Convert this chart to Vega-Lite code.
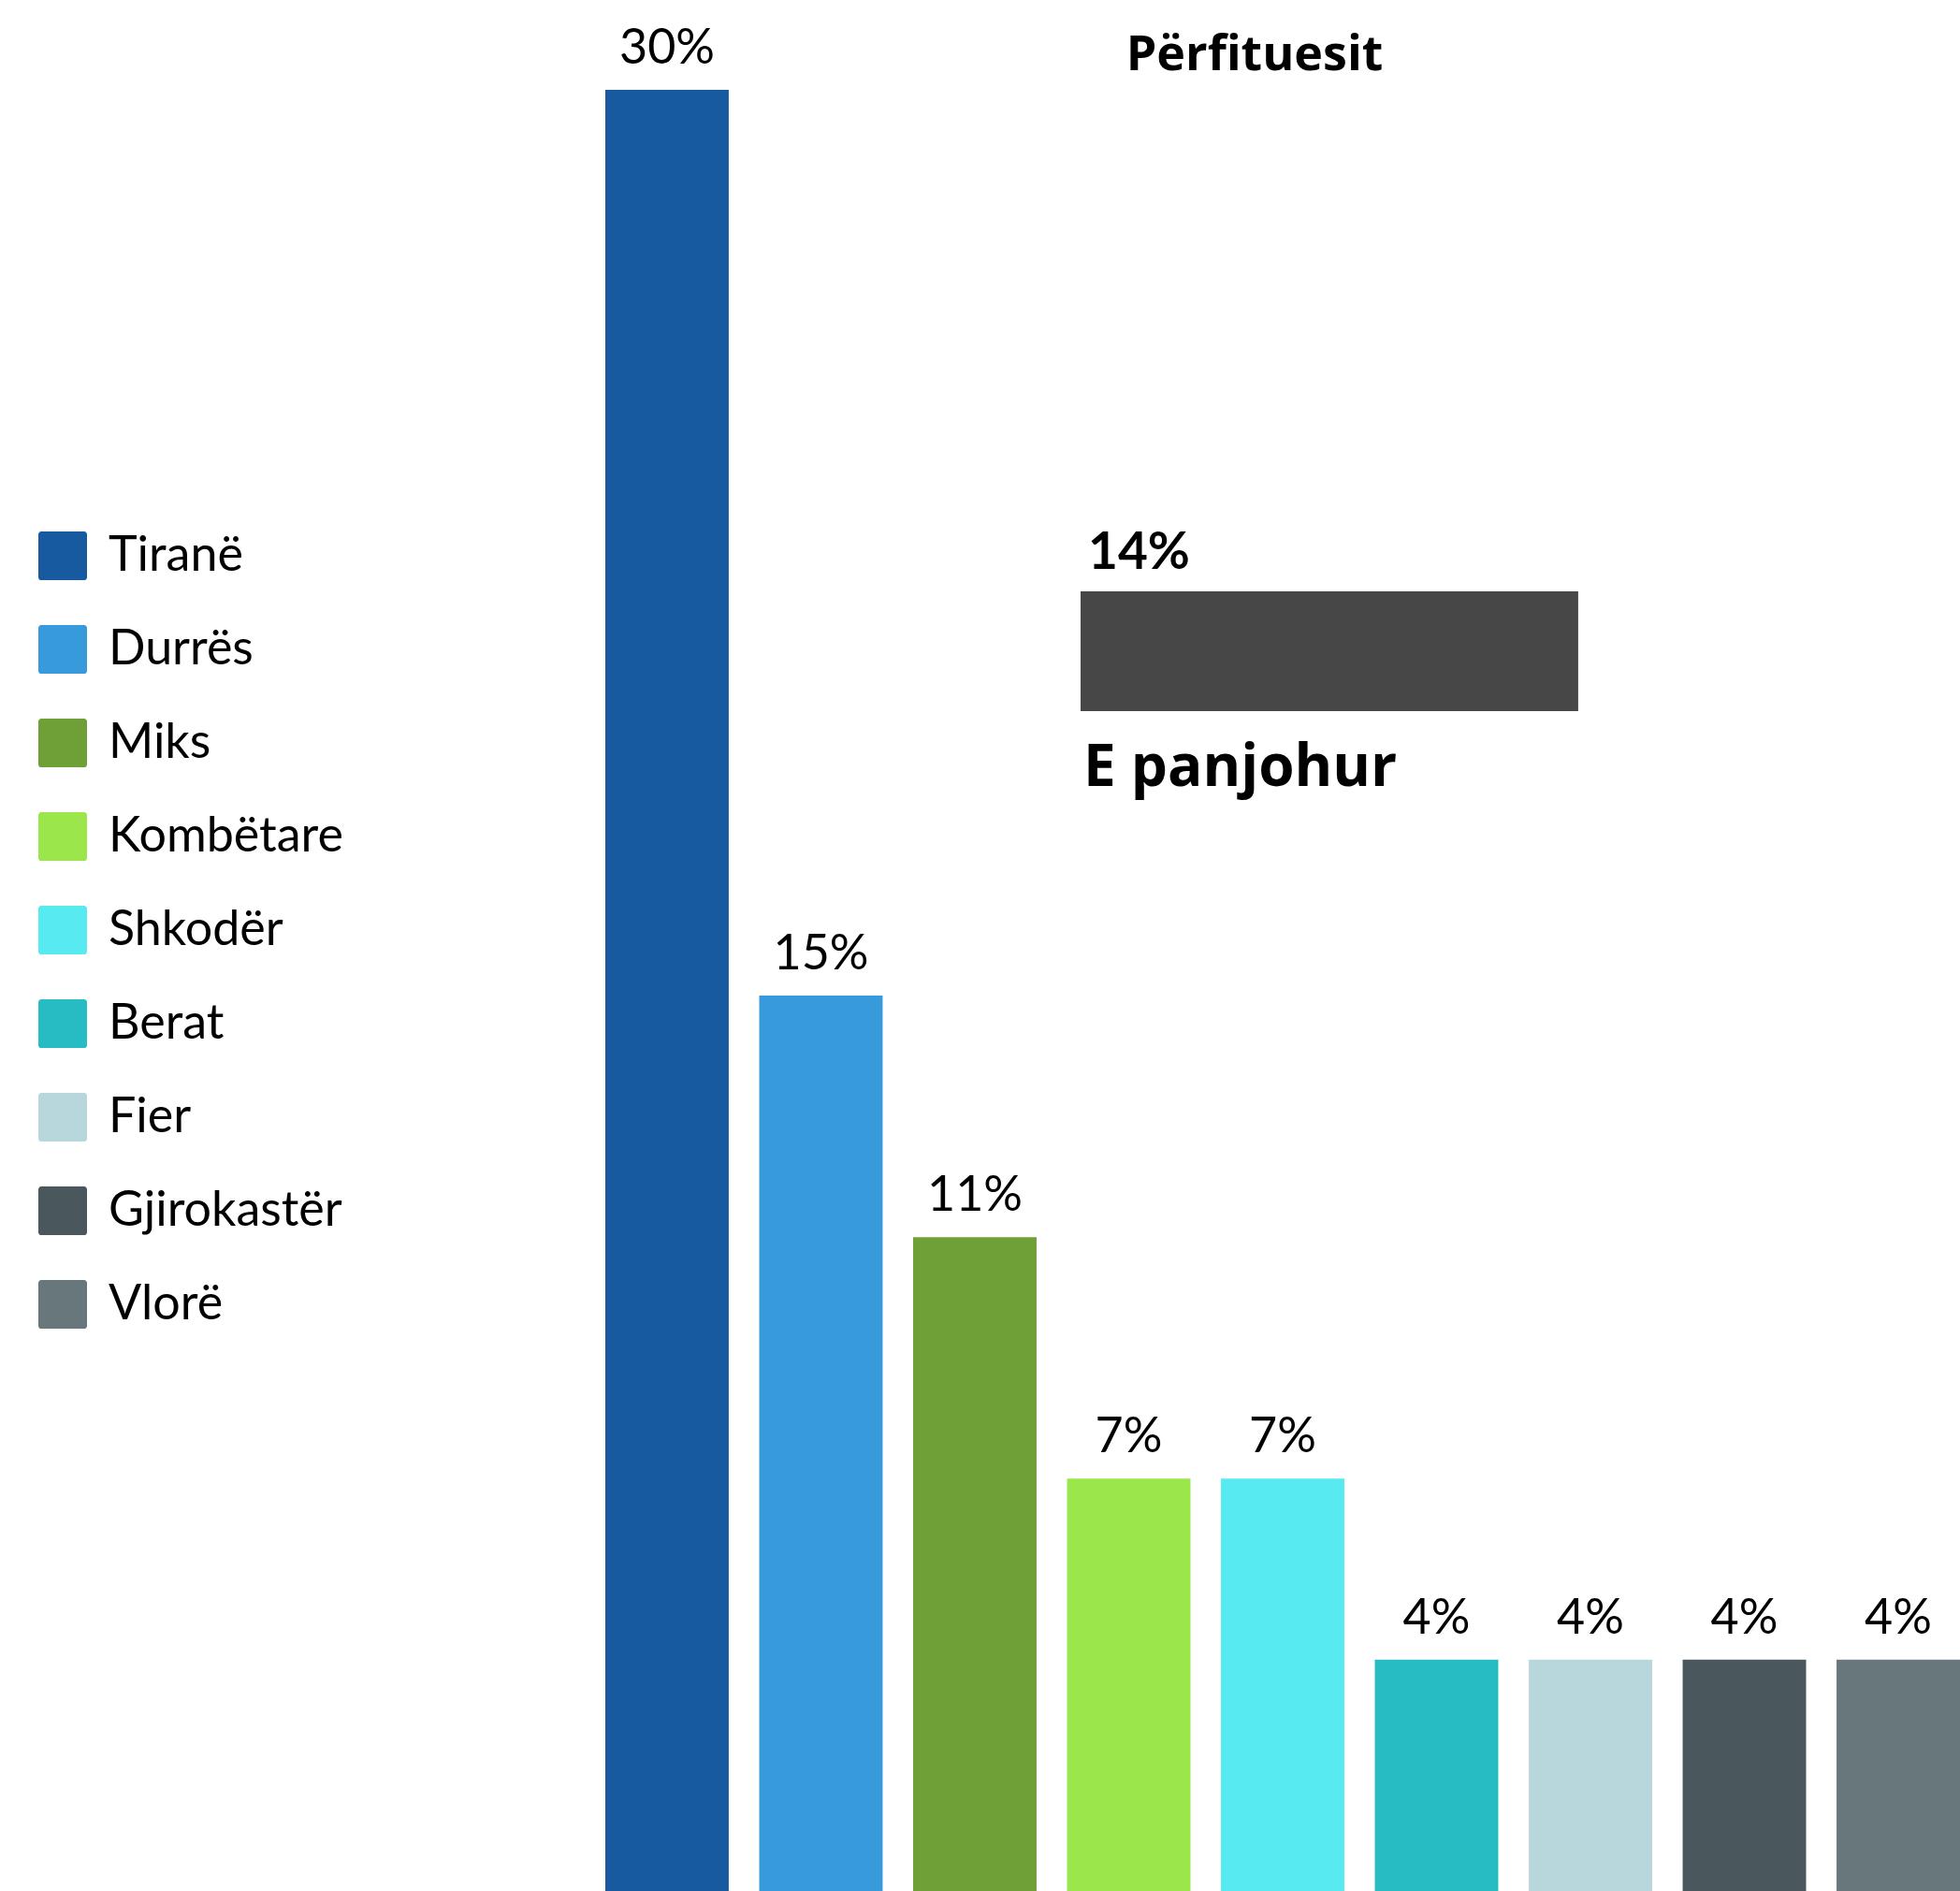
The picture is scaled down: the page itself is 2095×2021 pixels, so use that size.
{
  "$schema": "https://vega.github.io/schema/vega-lite/v6.json",
  "autosize": {"type": "none"},
  "width": 1448,
  "height": 1925,
  "padding": {"left": 647, "top": 96, "right": 0, "bottom": 0},
  "background": "white",
  "config": {"view": {"stroke": null}},
  "title": {
    "text": "Përfituesit",
    "font": "Open Sans",
    "fontSize": 52,
    "fontWeight": "bold",
    "color": "#000000",
    "anchor": "middle",
    "frame": "group",
    "dx": -30,
    "baseline": "alphabetic",
    "offset": -101
  },
  "datasets": {
    "regions": [
      {"region": "Tiranë", "share": 0.30},
      {"region": "Durrës", "share": 0.15},
      {"region": "Miks", "share": 0.11},
      {"region": "Kombëtare", "share": 0.07},
      {"region": "Shkodër", "share": 0.07},
      {"region": "Berat", "share": 0.04},
      {"region": "Fier", "share": 0.04},
      {"region": "Gjirokastër", "share": 0.04},
      {"region": "Vlorë", "share": 0.04}
    ],
    "unknown": [
      {"label": "E panjohur", "share": 0.14}
    ]
  },
  "layer": [
    {
      "data": {"name": "regions"},
      "layer": [
        {
          "mark": {"type": "bar"},
          "encoding": {
            "x": {"field": "region", "type": "nominal", "sort": null, "axis": null,
                  "scale": {"paddingInner": 0.198, "paddingOuter": 0}},
            "y": {"field": "share", "type": "quantitative", "axis": null,
                  "scale": {"domain": [0, 0.30], "range": [1936, 0], "nice": false}},
            "color": {
              "field": "region", "type": "nominal", "sort": null,
              "scale": {
                "domain": ["Tiranë", "Durrës", "Miks", "Kombëtare", "Shkodër", "Berat", "Fier", "Gjirokastër", "Vlorë"],
                "range": ["#175AA0", "#379BDB", "#6FA038", "#9BE64A", "#57EAF0", "#27BBC3", "#B7D7DC", "#4A585E", "#68777C"]
              },
              "legend": {
                "orient": "none",
                "legendX": -606,
                "legendY": 472,
                "title": null,
                "padding": 0,
                "symbolType": "M-0.88,-1H0.88A0.12,0.12,0,0,1,1,-0.88V0.88A0.12,0.12,0,0,1,0.88,1H-0.88A0.12,0.12,0,0,1,-1,0.88V-0.88A0.12,0.12,0,0,1,-0.88,-1Z",
                "symbolSize": 2704,
                "symbolStrokeWidth": 0,
                "symbolOpacity": 1,
                "labelFont": "Lato",
                "labelFontSize": 52,
                "labelColor": "#000000",
                "labelOffset": 23,
                "labelLimit": 600,
                "rowPadding": 48
              }
            }
          }
        },
        {
          "mark": {"type": "text", "font": "Lato", "fontSize": 52, "color": "#000000", "baseline": "alphabetic", "align": "center", "dy": -28},
          "encoding": {
            "x": {"field": "region", "type": "nominal", "sort": null, "axis": null},
            "y": {"field": "share", "type": "quantitative", "axis": null},
            "text": {"field": "share", "type": "quantitative", "format": ".0%"}
          }
        }
      ]
    },
    {
      "data": {"name": "unknown"},
      "layer": [
        {
          "mark": {"type": "bar", "color": "#474747"},
          "encoding": {
            "x": {"field": "share", "type": "quantitative", "axis": null,
                  "scale": {"domain": [-0.1337, 0.2474], "nice": false, "zero": false}},
            "y": {"field": "label", "type": "nominal", "axis": null,
                  "scale": {"paddingInner": 0.8576, "paddingOuter": 1, "align": 0.2983}}
          }
        },
        {
          "mark": {"type": "text", "font": "Lato", "fontWeight": "bold", "fontSize": 55, "color": "#000000", "baseline": "alphabetic", "align": "left", "dx": 8, "dy": -24},
          "encoding": {
            "x": {"datum": 0, "type": "quantitative", "axis": null},
            "y": {"field": "label", "type": "nominal", "axis": null, "bandPosition": 0},
            "text": {"field": "share", "type": "quantitative", "format": ".0%"}
          }
        },
        {
          "mark": {"type": "text", "font": "Open Sans", "fontWeight": "bold", "fontSize": 62, "color": "#000000", "baseline": "alphabetic", "align": "left", "dx": 3, "dy": 80},
          "encoding": {
            "x": {"datum": 0, "type": "quantitative", "axis": null},
            "y": {"field": "label", "type": "nominal", "axis": null, "bandPosition": 1},
            "text": {"field": "label", "type": "nominal"}
          }
        }
      ]
    }
  ],
  "resolve": {"scale": {"x": "independent", "y": "independent", "color": "independent"}}
}
